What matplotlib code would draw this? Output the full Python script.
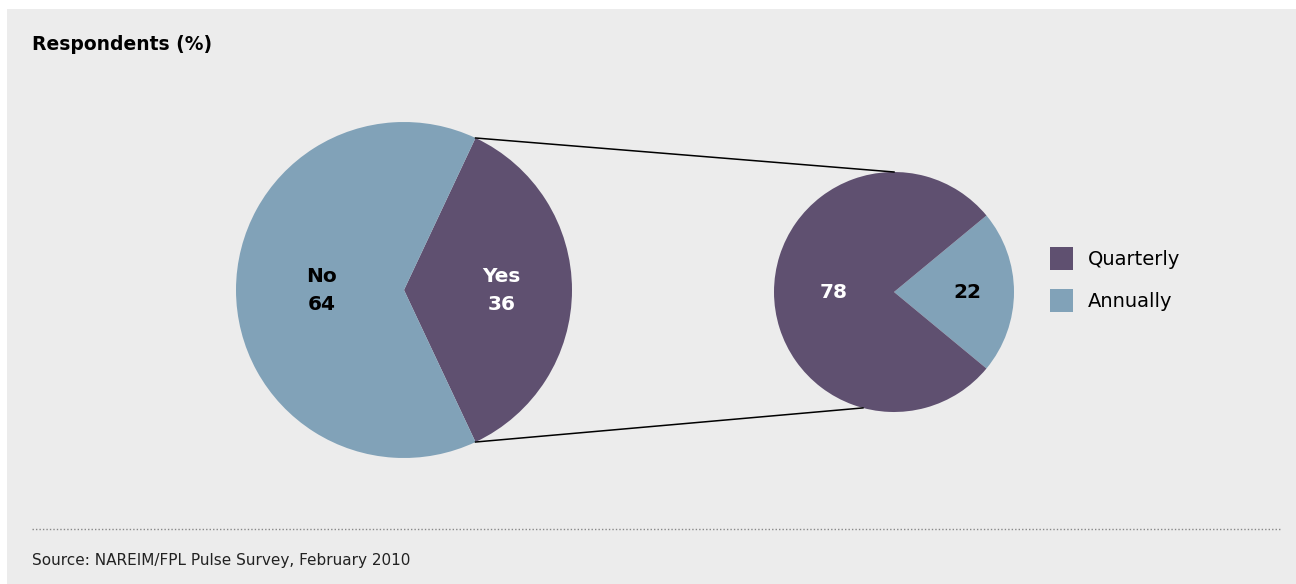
import numpy as np
import matplotlib.pyplot as plt
from matplotlib.patches import Rectangle

# Survey shares (%)
main_labels = ["Yes", "No"]
main_values = [36, 64]
sub_labels = ["Annually", "Quarterly"]
sub_values = [22, 78]

PURPLE = "#5f5070"
BLUE = "#81a2b8"
PANEL = "#ececec"

W, H = 1296, 584
fig = plt.figure(figsize=(W / 100, H / 100), dpi=100, facecolor="white")
ax = fig.add_axes([0, 0, 1, 1])

# grey panel behind everything
ax.add_patch(Rectangle((7, 0), W - 7, H - 9, facecolor=PANEL, edgecolor="none", zorder=0))

# main pie: "Yes" slice centred on the right
big_c, big_r = (404, 294), 168
big_start = -main_values[0] * 3.6 / 2
big_wedges, _ = ax.pie(main_values, colors=[PURPLE, BLUE], startangle=big_start,
                       center=big_c, radius=big_r, frame=True,
                       wedgeprops=dict(linewidth=0))

# breakdown of the "Yes" slice
small_c, small_r = (894, 292), 120
small_start = -sub_values[0] * 3.6 / 2
small_wedges, _ = ax.pie(sub_values, colors=[BLUE, PURPLE], startangle=small_start,
                         center=small_c, radius=small_r, frame=True,
                         wedgeprops=dict(linewidth=0))
ax.set_xlim(0, W)
ax.set_ylim(0, H)
ax.axis("off")


def on_circle(c, r, deg):
    t = np.deg2rad(deg)
    return c[0] + r * np.cos(t), c[1] + r * np.sin(t)


# connector lines from the "Yes" slice edges to the second pie
yes = big_wedges[0]
for a_big, a_small in [(yes.theta2, 90), (yes.theta1, -105)]:
    x0, y0 = on_circle(big_c, big_r, a_big)
    x1, y1 = on_circle(small_c, small_r, a_small)
    ax.plot([x0, x1], [y0, y1], color="black", linewidth=1.1, zorder=3)


def put_label(wedge, c, r, frac, text, color):
    mid = (wedge.theta1 + wedge.theta2) / 2
    x, y = on_circle(c, r * frac, mid)
    ax.text(x, y, text, ha="center", va="center", fontsize=14.5, fontweight="bold",
            color=color, linespacing=1.6)


put_label(big_wedges[0], big_c, big_r, 0.58, f"{main_labels[0]}\n{main_values[0]}", "white")
put_label(big_wedges[1], big_c, big_r, 0.49, f"{main_labels[1]}\n{main_values[1]}", "black")
put_label(small_wedges[0], small_c, small_r, 0.61, f"{sub_values[0]}", "black")
put_label(small_wedges[1], small_c, small_r, 0.50, f"{sub_values[1]}", "white")

leg = ax.legend([small_wedges[1], small_wedges[0]], [sub_labels[1], sub_labels[0]],
                loc="upper left", bbox_to_anchor=(1050 / W, 1 - 247 / H),
                frameon=False, fontsize=14, handlelength=1.2, handleheight=1.45,
                handletextpad=0.75, labelspacing=0.95, borderpad=0, borderaxespad=0)

ax.text(32, H - 44, "Respondents (%)", fontsize=13.5, fontweight="bold", va="center")
ax.plot([32, 1280], [H - 529, H - 529], color="#888888", linewidth=1.0,
        linestyle=(0, (1, 1.5)))
ax.text(32, H - 560, "Source: NAREIM/FPL Pulse Survey, February 2010", fontsize=11,
        va="center", color="#222222")

fig.savefig("out.png", dpi=100, facecolor=fig.get_facecolor())
